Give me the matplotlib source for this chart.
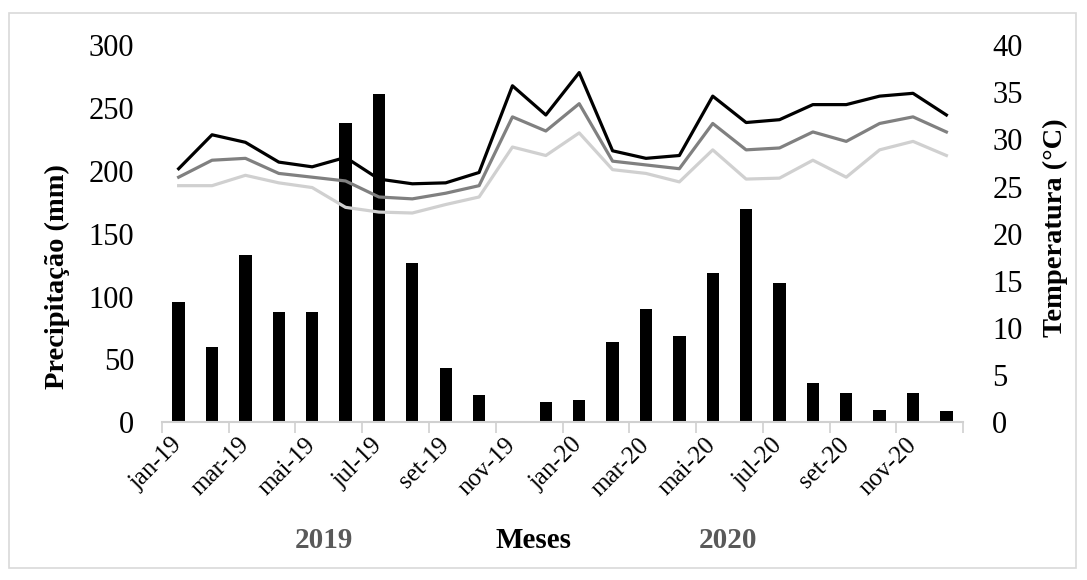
import numpy as np
import matplotlib.pyplot as plt
from matplotlib.patches import Rectangle

plt.rcParams['font.family'] = ['Liberation Serif', 'DejaVu Serif']

meses = ['jan-19', 'fev-19', 'mar-19', 'abr-19', 'mai-19', 'jun-19', 'jul-19', 'ago-19',
         'set-19', 'out-19', 'nov-19', 'dez-19', 'jan-20', 'fev-20', 'mar-20', 'abr-20',
         'mai-20', 'jun-20', 'jul-20', 'ago-20', 'set-20', 'out-20', 'nov-20', 'dez-20']

precip = [96, 60, 133, 88, 88, 238, 261, 127, 43, 22, 1, 16,
          18, 64, 90, 69, 119, 170, 111, 31, 23, 10, 23, 9]

t_max = [26.9, 30.5, 29.7, 27.6, 27.1, 28.1, 25.8, 25.3, 25.4, 26.5, 35.7, 32.6,
         37.1, 28.8, 28.0, 28.3, 34.6, 31.8, 32.1, 33.7, 33.7, 34.6, 34.9, 32.6]
t_med = [26.0, 27.8, 28.0, 26.4, 26.0, 25.6, 23.9, 23.7, 24.3, 25.1, 32.4, 30.9,
         33.8, 27.7, 27.3, 26.9, 31.7, 28.9, 29.1, 30.8, 29.8, 31.7, 32.4, 30.8]
t_min = [25.1, 25.1, 26.2, 25.4, 24.9, 22.8, 22.3, 22.2, 23.1, 23.9, 29.2, 28.3,
         30.7, 26.8, 26.4, 25.5, 28.9, 25.8, 25.9, 27.8, 26.0, 28.9, 29.8, 28.3]

x = np.arange(len(meses))

fig = plt.figure(figsize=(10.87, 5.80), dpi=100)
ax = fig.add_axes([0.149, 0.272, 0.737, 0.65])
ax2 = ax.twinx()

ax.bar(x, precip, width=0.37, color='black', zorder=2)
ax2.plot(x, t_min, color='#d0d0d0', lw=2.3, zorder=3)
ax2.plot(x, t_med, color='#808080', lw=2.3, zorder=3)
ax2.plot(x, t_max, color='black', lw=2.3, zorder=3)

ax.set_xlim(-0.5, len(meses) - 0.5)
ax.set_ylim(0, 300)
ax2.set_ylim(0, 40)
ax.set_yticks(np.arange(0, 301, 50))
ax2.set_yticks(np.arange(0, 41, 5))

ax.set_xticks(x[::2])
ax.set_xticklabels(meses[::2], rotation=45, ha='right', va='center', rotation_mode='anchor', fontsize=18)
ax.set_xticks(np.arange(-0.5, len(meses), 2), minor=True)
ax.tick_params(axis='x', which='major', length=0, pad=14)
ax.tick_params(axis='x', which='minor', length=8, color='#d0d0d0', width=1.2)
ax.tick_params(axis='y', length=0, labelsize=22, pad=20)
ax2.tick_params(axis='y', length=0, labelsize=22, pad=21)

for a in (ax, ax2):
    for s in ('top', 'left', 'right'):
        a.spines[s].set_visible(False)
ax.spines['bottom'].set_color('#d0d0d0')
ax.spines['bottom'].set_linewidth(1.5)
ax2.spines['bottom'].set_visible(False)

ax.set_ylabel('Precipitação (mm)', fontsize=20.5, fontweight='bold')
ax.yaxis.set_label_coords(-0.115, 0.387)
ax2.set_ylabel('Temperatura (°C)', fontsize=20.5, fontweight='bold')
ax2.yaxis.set_label_coords(1.099, 0.515)

fig.text(324 / 1087, 1 - 540 / 580, '2019', fontsize=21, fontweight='bold', color='#595959', ha='center', va='center')
fig.text(534 / 1087, 1 - 540 / 580, 'Meses', fontsize=21, fontweight='bold', color='black', ha='center', va='center')
fig.text(728 / 1087, 1 - 540 / 580, '2020', fontsize=21, fontweight='bold', color='#595959', ha='center', va='center')

fig.patches.append(Rectangle((0.008, 0.02), 0.982, 0.958, transform=fig.transFigure,
                             fill=False, edgecolor='#d9d9d9', lw=1.2))

fig.savefig('out.png', dpi=100)
